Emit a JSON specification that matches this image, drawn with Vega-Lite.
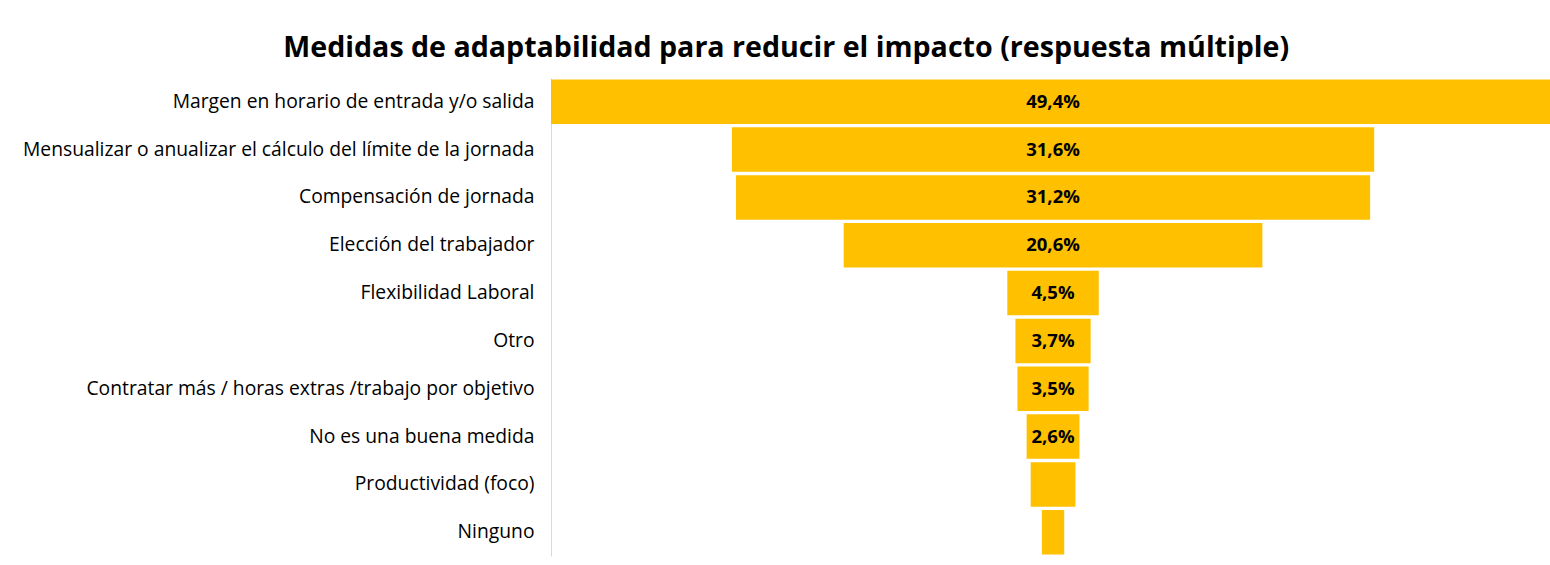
{
  "$schema": "https://vega.github.io/schema/vega-lite/v6.json",
  "autosize": "none",
  "width": 999,
  "height": 478,
  "padding": {"left": 551, "top": 78, "right": 0, "bottom": 9},
  "background": "white",
  "title": {
    "text": "Medidas de adaptabilidad para reducir el impacto (respuesta múltiple)",
    "font": "Open Sans",
    "fontSize": 28.6,
    "fontWeight": "bold",
    "color": "#000000",
    "anchor": "middle",
    "frame": "bounds",
    "offset": 15
  },
  "data": {
    "values": [
      {"medida": "Margen en horario de entrada y/o salida", "v": 49.4, "label": "49,4%"},
      {"medida": "Mensualizar o anualizar el cálculo del límite de la jornada", "v": 31.6, "label": "31,6%"},
      {"medida": "Compensación de jornada", "v": 31.2, "label": "31,2%"},
      {"medida": "Elección del trabajador", "v": 20.6, "label": "20,6%"},
      {"medida": "Flexibilidad Laboral", "v": 4.5, "label": "4,5%"},
      {"medida": "Otro", "v": 3.7, "label": "3,7%"},
      {"medida": "Contratar más / horas extras /trabajo por objetivo", "v": 3.5, "label": "3,5%"},
      {"medida": "No es una buena medida", "v": 2.6, "label": "2,6%"},
      {"medida": "Productividad (foco)", "v": 2.2, "label": ""},
      {"medida": "Ninguno", "v": 1.1, "label": ""}
    ]
  },
  "encoding": {
    "y": {
      "field": "medida",
      "type": "nominal",
      "sort": null,
      "title": null,
      "scale": {"paddingInner": 0.07, "paddingOuter": 0.03},
      "axis": {
        "labelFont": "Open Sans",
        "labelFontSize": 19.3,
        "labelColor": "#000000",
        "labelPadding": 17,
        "labelLimit": 600,
        "ticks": false,
        "domainColor": "#D9D9D9",
        "domainWidth": 1,
        "grid": false
      }
    }
  },
  "layer": [
    {
      "mark": {"type": "bar", "color": "#FFC000", "clip": true},
      "encoding": {
        "x": {
          "field": "v",
          "type": "quantitative",
          "stack": "center",
          "scale": {"domain": [0, 49.15], "nice": false, "zero": true},
          "axis": null
        }
      }
    },
    {
      "mark": {"type": "text", "font": "Open Sans", "fontSize": 18.5, "fontWeight": "bold", "color": "#000000", "align": "center", "baseline": "middle"},
      "encoding": {
        "x": {"datum": 24.7, "type": "quantitative"},
        "text": {"field": "label"}
      }
    }
  ],
  "config": {"view": {"stroke": null}}
}
